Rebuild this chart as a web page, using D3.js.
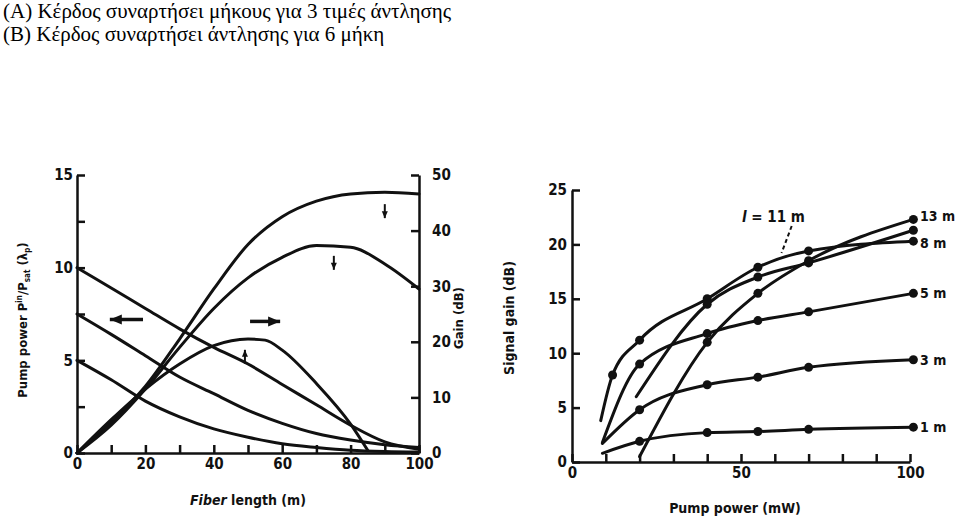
<!DOCTYPE html>
<html>
<head>
<meta charset="utf-8">
<script src="https://cdn.jsdelivr.net/npm/d3@7"></script>
<style>
  body { margin: 0; background: #fff; }
  .title { font-family: 'Liberation Serif', 'Times New Roman', serif; font-size: 21px; fill: #000; }
  .lbl { font-family: 'DejaVu Sans Condensed', 'DejaVu Sans', sans-serif; font-stretch: condensed; font-weight: bold; fill: #111; }
  .axis path, .axis line { stroke: #111; stroke-width: 2.5; }
  .axis text { font-family: 'DejaVu Sans Condensed', 'DejaVu Sans', sans-serif; font-stretch: condensed; font-weight: bold; font-size: 15px; fill: #111; }
  .curve { fill: none; stroke: #111; stroke-width: 3; stroke-linejoin: round; stroke-linecap: round; }
</style>
</head>
<body>
<svg id="chart" width="960" height="523"></svg>
<script>
// ---- (A) gain vs fiber length, 3 pump levels ----
const lenSteps = [0, 10, 20, 30, 40, 50, 60, 70, 80, 90, 100];
const pump10 = [10, 8.9, 7.8, 6.7, 5.7, 4.8, 3.7, 2.6, 1.5, 0.6, 0.2];
const pump75 = [7.5, 6.4, 5.25, 4.1, 3.2, 2.3, 1.6, 1.05, 0.7, 0.45, 0.3];
const pump5 = [5, 3.95, 2.8, 1.95, 1.3, 0.85, 0.5, 0.3, 0.15, 0.08, 0.05];
const gainHigh = [0, 5.5, 12, 20.5, 29.5, 37.5, 42.5, 45.3, 46.6, 46.9, 46.6];
const gainMid = [0, 5, 11.5, 19, 26, 31.5, 35.2, 37.3, 37, 34, 29.5];
const lowLen = [0, 10, 20, 30, 40, 50, 55, 60, 70, 80, 85];
const gainLow = [0, 6, 11.5, 16, 19.3, 20.5, 20.3, 18.5, 12.5, 5.2, 0.5];
const lenTicks = [0, 20, 40, 60, 80, 100];
const pumpTicks = [0, 5, 10, 15];
const gainTicks = [0, 10, 20, 30, 40, 50];

// ---- (B) gain vs pump power, 6 lengths ----
const fiberNames = ["1 m", "3 m", "5 m", "8 m", "11 m", "13 m"];
const powerX = [
  [9, 20, 40, 55, 70, 101],
  [9, 20, 40, 55, 70, 101],
  [9, 20, 40, 55, 70, 101],
  [8.5, 12, 20, 40, 55, 70, 101],
  [19, 40, 55, 70, 101],
  [20, 40, 55, 70, 101]
];
const signalGain = [
  [0.8, 1.9, 2.7, 2.8, 3.0, 3.2],
  [1.7, 4.8, 7.1, 7.8, 8.7, 9.4],
  [1.8, 9, 11.8, 13, 13.8, 15.5],
  [3.8, 8, 11.2, 15, 17.9, 19.4, 20.3],
  [6, 14.5, 17, 18.3, 21.3],
  [0.5, 11, 15.5, 18.5, 22.3]
];
const powerTicks = [0, 50, 100];
const sigTicks = [0, 5, 10, 15, 20, 25];

const titles = [
  "(A) Κέρδος συναρτήσει μήκους για 3 τιμές άντλησης",
  "(B) Κέρδος συναρτήσει άντλησης για 6 μήκη"
];

const svg = d3.select("#chart");

svg.selectAll(".title").data(titles).enter().append("text")
  .attr("class", "title")
  .attr("x", 3)
  .attr("y", (d, i) => 18 + i * 23)
  .text(d => d);

// ================= chart A =================
const xA = d3.scaleLinear().domain([0, 100]).range([77, 419]);
const yP = d3.scaleLinear().domain([0, 15]).range([453, 175]);
const yG = d3.scaleLinear().domain([0, 50]).range([453, 175]);

const gA = svg.append("g");

gA.append("g").attr("class", "axis")
  .attr("transform", "translate(0,453)")
  .call(d3.axisBottom(xA).tickValues(d3.range(0, 101, 10)).tickSize(-8).tickSizeOuter(0).tickPadding(5)
    .tickFormat(d => lenTicks.includes(d) ? d : ""));

gA.append("g").attr("class", "axis")
  .attr("transform", "translate(77,0)")
  .call(d3.axisLeft(yP).tickValues(d3.range(0, 15.1, 2.5)).tickSize(-8).tickSizeOuter(0).tickPadding(4)
    .tickFormat(d => pumpTicks.includes(d) ? d : ""));

gA.append("g").attr("class", "axis")
  .attr("transform", "translate(419,0)")
  .call(d3.axisRight(yG).tickValues(gainTicks).tickSize(-8).tickSizeOuter(0).tickPadding(13));

const lineP = d3.line().x(d => xA(d[0])).y(d => yP(d[1])).curve(d3.curveMonotoneX);
const lineG = d3.line().x(d => xA(d[0])).y(d => yG(d[1])).curve(d3.curveMonotoneX);

[pump10, pump75, pump5].forEach(s => {
  gA.append("path").attr("class", "curve").attr("d", lineP(lenSteps.map((x, i) => [x, s[i]])));
});
[gainHigh, gainMid].forEach(s => {
  gA.append("path").attr("class", "curve").attr("d", lineG(lenSteps.map((x, i) => [x, s[i]])));
});
gA.append("path").attr("class", "curve").attr("d", lineG(lowLen.map((x, i) => [x, gainLow[i]])));

// direction arrows
function hArrow(g, x1, x2, y, dir) {
  const tip = dir < 0 ? x1 : x2;
  g.append("line").attr("x1", x1).attr("x2", x2).attr("y1", y).attr("y2", y)
    .attr("stroke", "#111").attr("stroke-width", 3.5);
  g.append("path")
    .attr("d", `M${tip},${y} L${tip - dir * 12},${y - 5} L${tip - dir * 12},${y + 5} Z`)
    .attr("fill", "#111");
}
hArrow(gA, xA(9.6), xA(19.3), yP(7.2), -1);
hArrow(gA, xA(50.6), xA(59.4), yP(7.1), 1);

function vMark(g, x, y, up) {
  g.append("line").attr("x1", x).attr("x2", x).attr("y1", y - 7).attr("y2", y + 7)
    .attr("stroke", "#111").attr("stroke-width", 2);
  const t = up ? y - 7 : y + 7;
  g.append("path").attr("d", `M${x},${t} L${x - 3},${t + (up ? 7 : -7)} L${x + 3},${t + (up ? 7 : -7)} Z`)
    .attr("fill", "#111");
}
vMark(gA, xA(90), yG(43.5), false);
vMark(gA, xA(75.1), yG(34.2), false);
vMark(gA, xA(49.1), yG(17.3), true);

gA.append("text").attr("class", "lbl")
  .attr("x", 248).attr("y", 505).attr("text-anchor", "middle").attr("font-size", 14)
  .html('<tspan font-style="italic">Fiber</tspan> length (m)');

const yl = gA.append("text").attr("class", "lbl")
  .attr("transform", "translate(27,320) rotate(-90)")
  .attr("text-anchor", "middle").attr("font-size", 13);
yl.append("tspan").text("Pump power P");
yl.append("tspan").attr("font-size", 8).attr("dy", -5).text("in");
yl.append("tspan").attr("dy", 5).text("/P");
yl.append("tspan").attr("font-size", 8).attr("dy", 3).text("sat");
yl.append("tspan").attr("dy", -3).text(" (λ");
yl.append("tspan").attr("font-size", 8).attr("dy", 3).text("p");
yl.append("tspan").attr("dy", -3).text(")");

gA.append("text").attr("class", "lbl")
  .attr("transform", "translate(463,318) rotate(-90)")
  .attr("text-anchor", "middle").attr("font-size", 13)
  .text("Gain (dB)");

// ================= chart B =================
const xB = d3.scaleLinear().domain([0, 100]).range([572, 910]);
const yB = d3.scaleLinear().domain([0, 25]).range([462, 190]);
const gB = svg.append("g");

gB.append("g").attr("class", "axis")
  .attr("transform", "translate(0,462)")
  .call(d3.axisBottom(xB).tickValues(d3.range(0, 101, 10)).tickSize(-8).tickSizeOuter(0).tickPadding(5)
    .tickFormat(d => powerTicks.includes(d) ? d : ""));

gB.append("g").attr("class", "axis")
  .attr("transform", "translate(572,0)")
  .call(d3.axisLeft(yB).tickValues(sigTicks).tickSize(-8).tickSizeOuter(0).tickPadding(5));

const lineB = d3.line().x(d => xB(d[0])).y(d => yB(d[1])).curve(d3.curveMonotoneX);

fiberNames.forEach((name, k) => {
  const pts = powerX[k].map((x, i) => [x, signalGain[k][i]]);
  gB.append("path").attr("class", "curve").attr("stroke-width", 2.5).attr("d", lineB(pts));
  gB.selectAll(null).data(pts.slice(1)).enter().append("circle")
    .attr("cx", d => xB(d[0])).attr("cy", d => yB(d[1])).attr("r", 4.5).attr("fill", "#111");
});

const endLabels = [
  { name: "1 m", y: 3.2 }, { name: "3 m", y: 9.4 }, { name: "5 m", y: 15.5 },
  { name: "8 m", y: 20.1 }, { name: "13 m", y: 22.6 }
];
gB.selectAll(".endlbl").data(endLabels).enter().append("text")
  .attr("class", "lbl").attr("font-size", 14)
  .attr("x", 920).attr("y", d => yB(d.y) + 5)
  .text(d => d.name);

gB.append("text").attr("class", "lbl").attr("font-size", 15)
  .attr("x", 742).attr("y", 222)
  .html('<tspan font-style="italic">l</tspan> = 11 m');
gB.append("path").attr("d", `M${xB(65)},226 L${xB(62)},253`)
  .attr("stroke", "#111").attr("stroke-width", 2).attr("stroke-dasharray", "4,3").attr("fill", "none");

gB.append("text").attr("class", "lbl")
  .attr("x", 735).attr("y", 513).attr("text-anchor", "middle").attr("font-size", 14)
  .text("Pump power (mW)");

gB.append("text").attr("class", "lbl")
  .attr("transform", "translate(514,318) rotate(-90)")
  .attr("text-anchor", "middle").attr("font-size", 14)
  .text("Signal gain (dB)");
</script>
</body>
</html>
